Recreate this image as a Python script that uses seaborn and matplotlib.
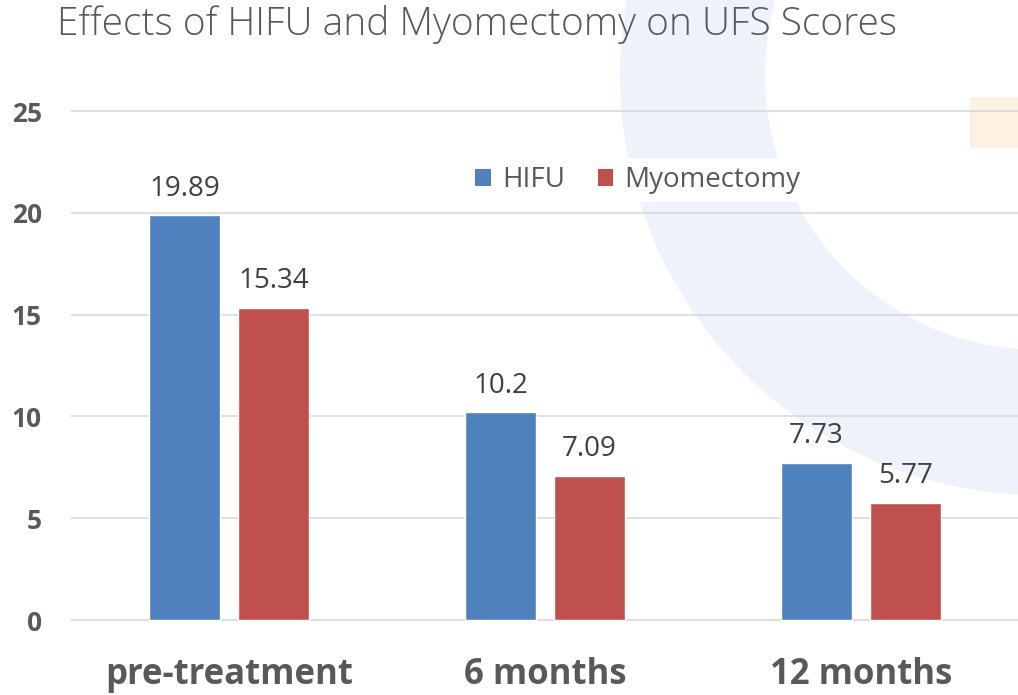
import numpy as np
import pandas as pd
import seaborn as sns
import matplotlib
matplotlib.use("Agg")
import matplotlib.pyplot as plt
from matplotlib.patches import Wedge, Rectangle, Patch

# ---- data ----
categories = ["pre-treatment", "6 months", "12 months"]
series_names = ["HIFU", "Myomectomy"]
hifu_values = [19.89, 10.2, 7.73]
myomectomy_values = [15.34, 7.09, 5.77]
y_ticks = [0, 5, 10, 15, 20, 25]
colors = ["#4F81BD", "#C0504D"]

df = pd.DataFrame({
    "Time": categories * 2,
    "Group": [series_names[0]] * 3 + [series_names[1]] * 3,
    "Score": hifu_values + myomectomy_values,
})

sns.set_theme(style="white")
plt.rcParams["font.family"] = ["Open Sans", "DejaVu Sans"]

W, H = 1018, 695
fig = plt.figure(figsize=(W / 100, H / 100), dpi=100)
fig.patch.set_facecolor("white")

# background decoration axes (pixel coordinates)
bg = fig.add_axes([0, 0, 1, 1], zorder=0)
bg.set_xlim(0, W)
bg.set_ylim(H, 0)
bg.set_aspect("equal")
bg.axis("off")
bg.add_patch(Wedge((1040, 75), 420, 0, 360, width=145, facecolor="#EEF2FA", edgecolor="none"))
bg.add_patch(Rectangle((970, 97), 50, 51, facecolor="#FDF1E4", edgecolor="none"))

# main axes
ax = fig.add_axes([71 / W, 0.10498, 948 / W, 0.7382], zorder=1)
ax.set_facecolor("none")

sns.barplot(data=df, x="Time", y="Score", hue="Group", palette=colors,
            width=0.563, gap=0.2, saturation=1, legend=False, ax=ax, zorder=3)

ax.set_xlim(-0.5, 2.5)
ax.set_ylim(-0.1, 25.1)
ax.set_yticks(y_ticks)
ax.set_yticklabels([str(t) for t in y_ticks])
ax.yaxis.grid(True, color="#D9D9D9", linewidth=1.2, zorder=0)
ax.set_axisbelow(True)
for s in ax.spines.values():
    s.set_visible(False)
ax.set_xlabel("")
ax.set_ylabel("")
ax.tick_params(axis="y", length=0, pad=21, labelsize=19, labelcolor="#595959")
ax.tick_params(axis="x", length=0, pad=25, labelsize=25, labelcolor="#595959")
for lbl in ax.get_yticklabels():
    lbl.set_fontweight("bold")
for lbl in ax.get_xticklabels():
    lbl.set_fontweight("bold")

for cont in ax.containers:
    ax.bar_label(cont, fmt="%g", padding=9, fontsize=20, color="#404040")

handles = [Patch(facecolor=c, edgecolor="none") for c in colors]
leg = ax.legend(handles, series_names, loc="center", bbox_to_anchor=((638 - 71) / 948, (622 - 180) / 513.07),
                ncol=2, frameon=True, fontsize=20, handlelength=0.55, handleheight=0.55,
                handletextpad=0.4, columnspacing=1.2, borderpad=0.3)
leg.get_frame().set_facecolor("white")
leg.get_frame().set_edgecolor("none")
leg.get_frame().set_alpha(1)
for t in leg.get_texts():
    t.set_color("#595959")

fig.text(57 / W, 1 - 24 / H, "Effects of HIFU and Myomectomy on UFS Scores",
         fontsize=28, fontweight="light", color="#595959", ha="left", va="center")

fig.savefig("out.png", dpi=100)
